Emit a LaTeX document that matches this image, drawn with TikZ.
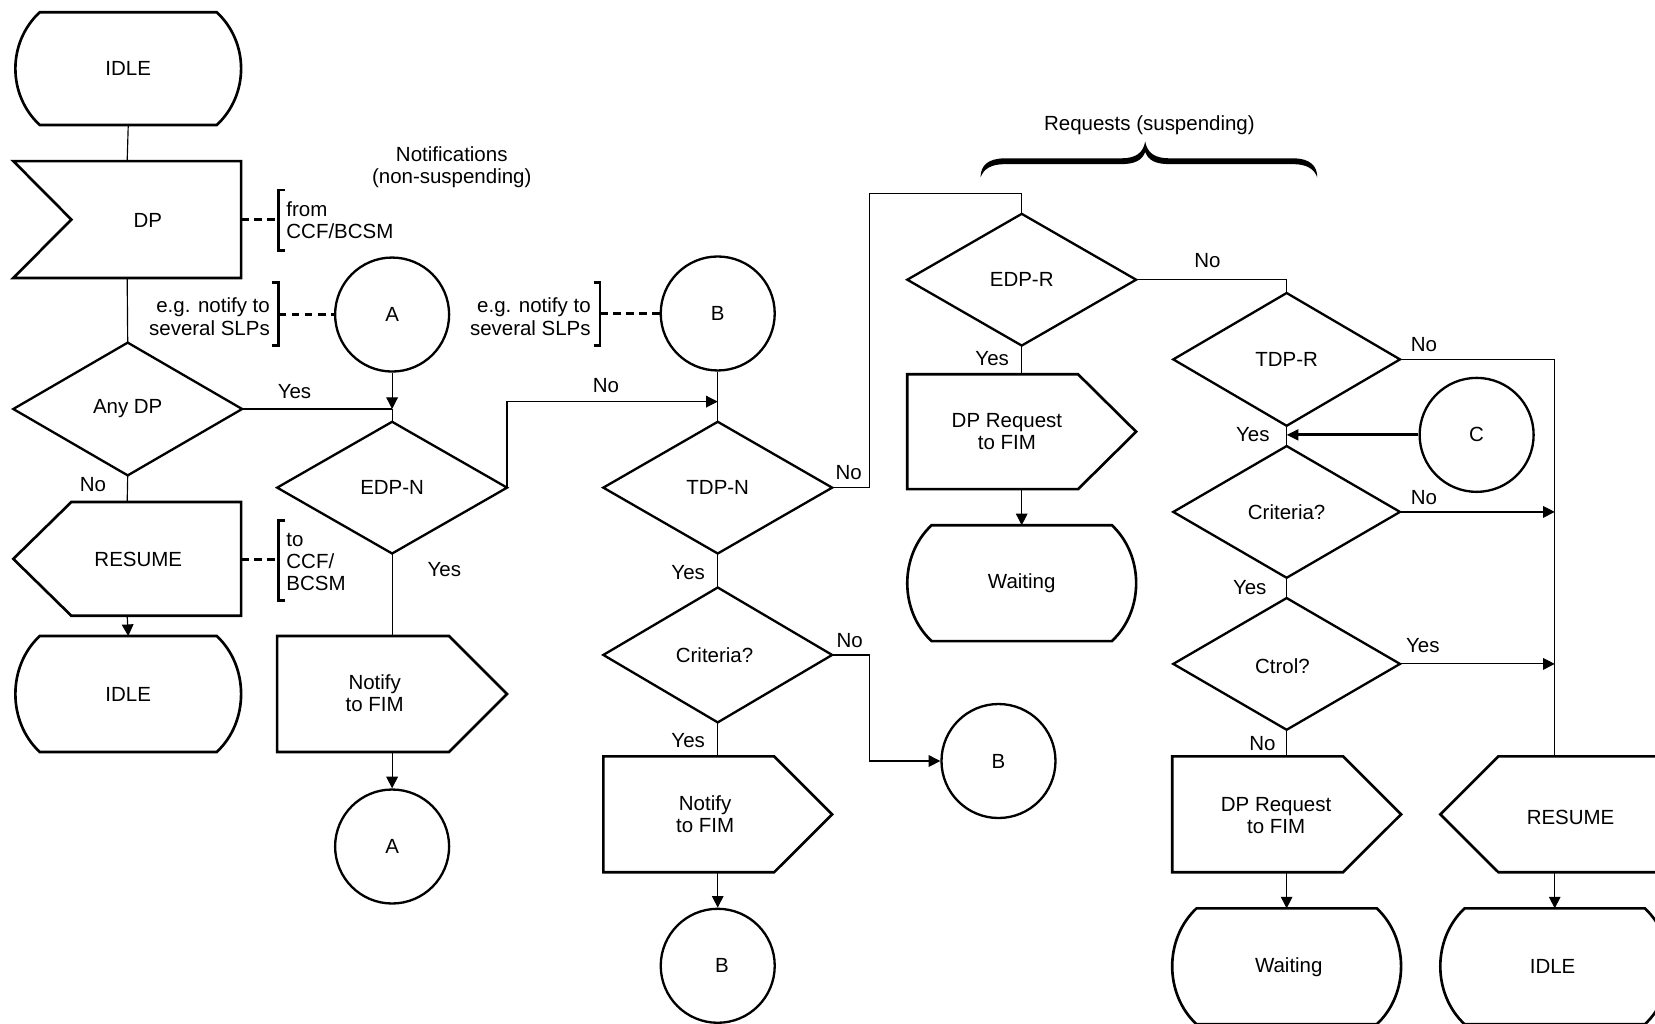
\documentclass[tikz,border=0pt]{standalone}
\usepackage{fontspec}
\setmainfont{Liberation Sans}
\usetikzlibrary{arrows.meta,calc}

% outlines drawn around plain rectangular nodes
\newcommand\drawTerm[1]{\draw[shapeline] ([xshift=11.5pt]#1.north west) -- ([xshift=-11.5pt]#1.north east)
  .. controls ([xshift=3.85pt,yshift=-14.35pt]#1.north east) and ([xshift=3.85pt,yshift=14.35pt]#1.south east) .. ([xshift=-11.5pt]#1.south east)
  -- ([xshift=11.5pt]#1.south west)
  .. controls ([xshift=-3.85pt,yshift=14.35pt]#1.south west) and ([xshift=-3.85pt,yshift=-14.35pt]#1.north west) .. cycle;}
\newcommand\drawInput[1]{\draw[shapeline] (#1.north west) -- (#1.north east) -- (#1.south east) -- (#1.south west) -- ([xshift=27.5pt]#1.west) -- cycle;}
\newcommand\drawOutR[1]{\draw[shapeline] (#1.north west) -- ([xshift=-27.5pt]#1.north east) -- (#1.east) -- ([xshift=-27.5pt]#1.south east) -- (#1.south west) -- cycle;}
\newcommand\drawOutL[1]{\draw[shapeline] ([xshift=27.5pt]#1.north west) -- (#1.north east) -- (#1.south east) -- ([xshift=27.5pt]#1.south west) -- (#1.west) -- cycle;}
\newcommand\drawDiam[1]{\draw[diamline] (#1.north) -- (#1.east) -- (#1.south) -- (#1.west) -- cycle;}

\begin{document}
\begin{tikzpicture}[x=0.5pt,y=-0.5pt,
  every node/.style={font=\fontsize{9.7pt}{10.5pt}\selectfont, inner sep=0pt, align=center},
  sz/.style 2 args={minimum width=#1pt, minimum height=#2pt},
  shapeline/.style={line width=1.25pt, line join=miter},
  diamline/.style={line width=1.1pt, line join=miter},
  circ/.style={circle, draw, line width=1.1pt, minimum size=54pt},
  conn/.style={line width=0.55pt},
  arr/.style={conn, -{Triangle[length=5.5pt,width=5.5pt]}},
  dashlink/.style={line width=1.4pt, dash pattern=on 3.6pt off 2.6pt},
  brk/.style={line width=1.35pt}
]
\useasboundingbox (0,0) rectangle (1568,970);
\clip (0,0) rectangle (1568,970);

% ---------- shapes ----------
\node[sz={106.5}{53}] (idleA) at (121.5,65) {IDLE};
\node[sz={107.5}{55}] (dp) at (120.5,208) {};
\node (dpT) at (140,209) {DP};
\node[sz={108}{62.5}] (anyDP) at (121,387.5) {Any DP};
\node[sz={107.5}{53.5}] (resumeA) at (120.5,529.5) {};
\node (resumeAT) at (131,530) {RESUME};
\node[sz={106.5}{54.5}] (idleB) at (121.5,657.5) {IDLE};

\node[circ] (circA1) at (371.5,298) {A};
\node[sz={108.5}{62}] (edpN) at (371.5,462) {EDP-N};
\node[sz={108.5}{54.5}] (notifyA) at (371.5,657.5) {};
\node (notifyAT) at (355,657) {Notify\\to FIM};
\node[circ] (circA2) at (371.5,802) {A};

\node[circ] (circB1) at (680,297) {B};
\node[sz={108}{62}] (tdpN) at (680,462) {TDP-N};
\node[sz={108}{63.5}] (critA) at (680,620.5) {};
\node (critAT) at (677,621) {Criteria?};
\node[sz={108}{54.5}] (notifyB) at (680,771.5) {};
\node (notifyBT) at (668,771) {Notify\\to FIM};
\node[circ] (circB2) at (946,721) {B};
\node[circ] (circB3) at (680,915) {};
\node (circB3T) at (684,915) {B};

\node[sz={108}{62}] (edpR) at (968,265) {EDP-R};
\node[sz={108}{54}] (dpReqA) at (968,409) {};
\node (dpReqAT) at (954,409) {DP Request\\to FIM};
\node[sz={108}{54.5}] (waitA) at (968,552.5) {Waiting};

\node[sz={107}{62.5}] (tdpR) at (1219,340.5) {TDP-R};
\node[circ] (circC) at (1399,412) {C};
\node[sz={107}{62}] (critB) at (1219,485) {Criteria?};
\node[sz={107}{62}] (ctrl) at (1219,629) {};
\node (ctrlT) at (1215,631) {Ctrol?};
\node[sz={108}{54.5}] (dpReqB) at (1219,771.5) {};
\node (dpReqBT) at (1209,773) {DP Request\\to FIM};
\node[sz={108}{54.5}] (waitB) at (1219,915.5) {};
\node (waitBT) at (1221,916) {Waiting};

\node[sz={108}{54.5}] (resumeB) at (1473,771.5) {};
\node (resumeBT) at (1488,774) {RESUME};
\node[sz={108}{54.5}] (idleC) at (1473,915.5) {};
\node (idleCT) at (1471,916) {IDLE};

\drawTerm{idleA} \drawTerm{idleB} \drawTerm{waitA} \drawTerm{waitB} \drawTerm{idleC}
\drawInput{dp}
\drawOutL{resumeA} \drawOutL{resumeB}
\drawOutR{notifyA} \drawOutR{notifyB} \drawOutR{dpReqA} \drawOutR{dpReqB}
\drawDiam{anyDP} \drawDiam{edpN} \drawDiam{tdpN} \drawDiam{critA}
\drawDiam{edpR} \drawDiam{tdpR} \drawDiam{critB} \drawDiam{ctrl}

% ---------- annotations ----------
\node (notifHead) at (428,158.5) {Notifications\\(non-suspending)};
\node (reqHead) at (1089,119) {Requests (suspending)};
% bold tapered curly brace over the request branch
\fill (929,168) .. controls (929,157) and (936,150) .. (952,150) -- (1062,150)
  .. controls (1076,150) and (1083,145) .. (1085,134)
  .. controls (1087,145) and (1094,150) .. (1108,150) -- (1225,150)
  .. controls (1241,150) and (1248,157) .. (1248,168)
  .. controls (1245,160) and (1238,155.5) .. (1225,155.5) -- (1108,155.5)
  .. controls (1095,155.5) and (1088,152) .. (1085,144)
  .. controls (1082,152) and (1075,155.5) .. (1062,155.5) -- (952,155.5)
  .. controls (939,155.5) and (932,160) .. (929,168) -- cycle;

\coordinate (br1) at (264,208);
\draw[brk] (270,180) -- (264,180) -- (264,237) -- (270,237);
\node[anchor=west, align=left] (fromT) at (271,208.5) {from\\CCF/BCSM};
\draw[dashlink] (dp.east) -- (br1);

\coordinate (br2) at (264,530.5);
\draw[brk] (270,493) -- (264,493) -- (264,569) -- (270,569);
\node[anchor=west, align=left] (toT) at (271,532.5) {to\\CCF/\\BCSM};
\draw[dashlink] (resumeA.east |- br2) -- (br2);

\coordinate (br3) at (264,298);
\draw[brk] (258,268) -- (264,268) -- (264,327) -- (258,327);
\node[anchor=east, align=right] (egA) at (256,300) {e.g. notify to\\several SLPs};
\draw[dashlink] (br3) -- (circA1.west);

\coordinate (br4) at (568.5,297);
\draw[brk] (562.5,268) -- (568.5,268) -- (568.5,327) -- (562.5,327);
\node[anchor=east, align=right] (egB) at (560,300) {e.g. notify to\\several SLPs};
\draw[dashlink] (br4) -- (circB1.west);

% ---------- connectors ----------
\draw[conn] (idleA.south) -- (dp.north);
\draw[conn] (dp.south) -- (anyDP.north);
\draw[conn] (anyDP.east) -- (anyDP.east -| edpN.north);
\draw[arr] (circA1.south) -- (circA1.south |- anyDP.east);
\draw[conn] (circA1.south |- anyDP.east) -- (edpN.north);
\draw[conn] (anyDP.south) -- (resumeA.north);
\draw[arr] (resumeA.south) -- (idleB.north);
\draw[conn] (edpN.south) -- (notifyA.north);
\draw[arr] (notifyA.south) -- (circA2.north);

\coordinate (jB) at (680,380.5);
\draw[arr] (edpN.east) |- (jB);
\draw[conn] (circB1.south) -- (tdpN.north);
\coordinate (c1) at (823.5,183);
\draw[conn] (tdpN.east) -| (c1) -| (edpR.north);
\draw[conn] (tdpN.south) -- (critA.north);
\coordinate (c2) at (823.5,721);
\draw[arr] (critA.east) -| (c2) -- (circB2.west);
\draw[conn] (critA.south) -- (notifyB.north);
\draw[arr] (notifyB.south) -- (circB3.north);

\draw[conn] (edpR.east) -| (tdpR.north);
\draw[conn] (edpR.south) -- (dpReqA.north);
\draw[arr] (dpReqA.south) -- (waitA.north);
\draw[conn] (tdpR.east) -| (resumeB.north);
\draw[conn] (tdpR.south) -- (critB.north);
\draw[line width=1.4pt, -{Triangle[length=5.5pt,width=5pt]}] (circC.west) -- (tdpR.south |- circC.west);
\draw[arr] (critB.east) -- (critB.east -| resumeB.north);
\draw[conn] (critB.south) -- (ctrl.north);
\draw[arr] (ctrl.east) -- (ctrl.east -| resumeB.north);
\draw[conn] (ctrl.south) -- (dpReqB.north);
\draw[arr] (dpReqB.south) -- (waitB.north);
\draw[arr] (resumeB.south) -- (idleC.north);

% ---------- branch labels ----------
\node (l1) at (279,371) {Yes};
\node (l2) at (88,459) {No};
\node (l3) at (421,540) {Yes};
\node (l4) at (574,365) {No};
\node (l5) at (804,448) {No};
\node (l6) at (652,542) {Yes};
\node (l7) at (805,607) {No};
\node (l8) at (652,702) {Yes};
\node (l9) at (1144,247) {No};
\node (l10) at (940,340) {Yes};
\node (l11) at (1349,326) {No};
\node (l12) at (1187,412) {Yes};
\node (l13) at (1349,471) {No};
\node (l14) at (1184,557) {Yes};
\node (l15) at (1348,612) {Yes};
\node (l16) at (1196,704) {No};
\end{tikzpicture}
\end{document}
